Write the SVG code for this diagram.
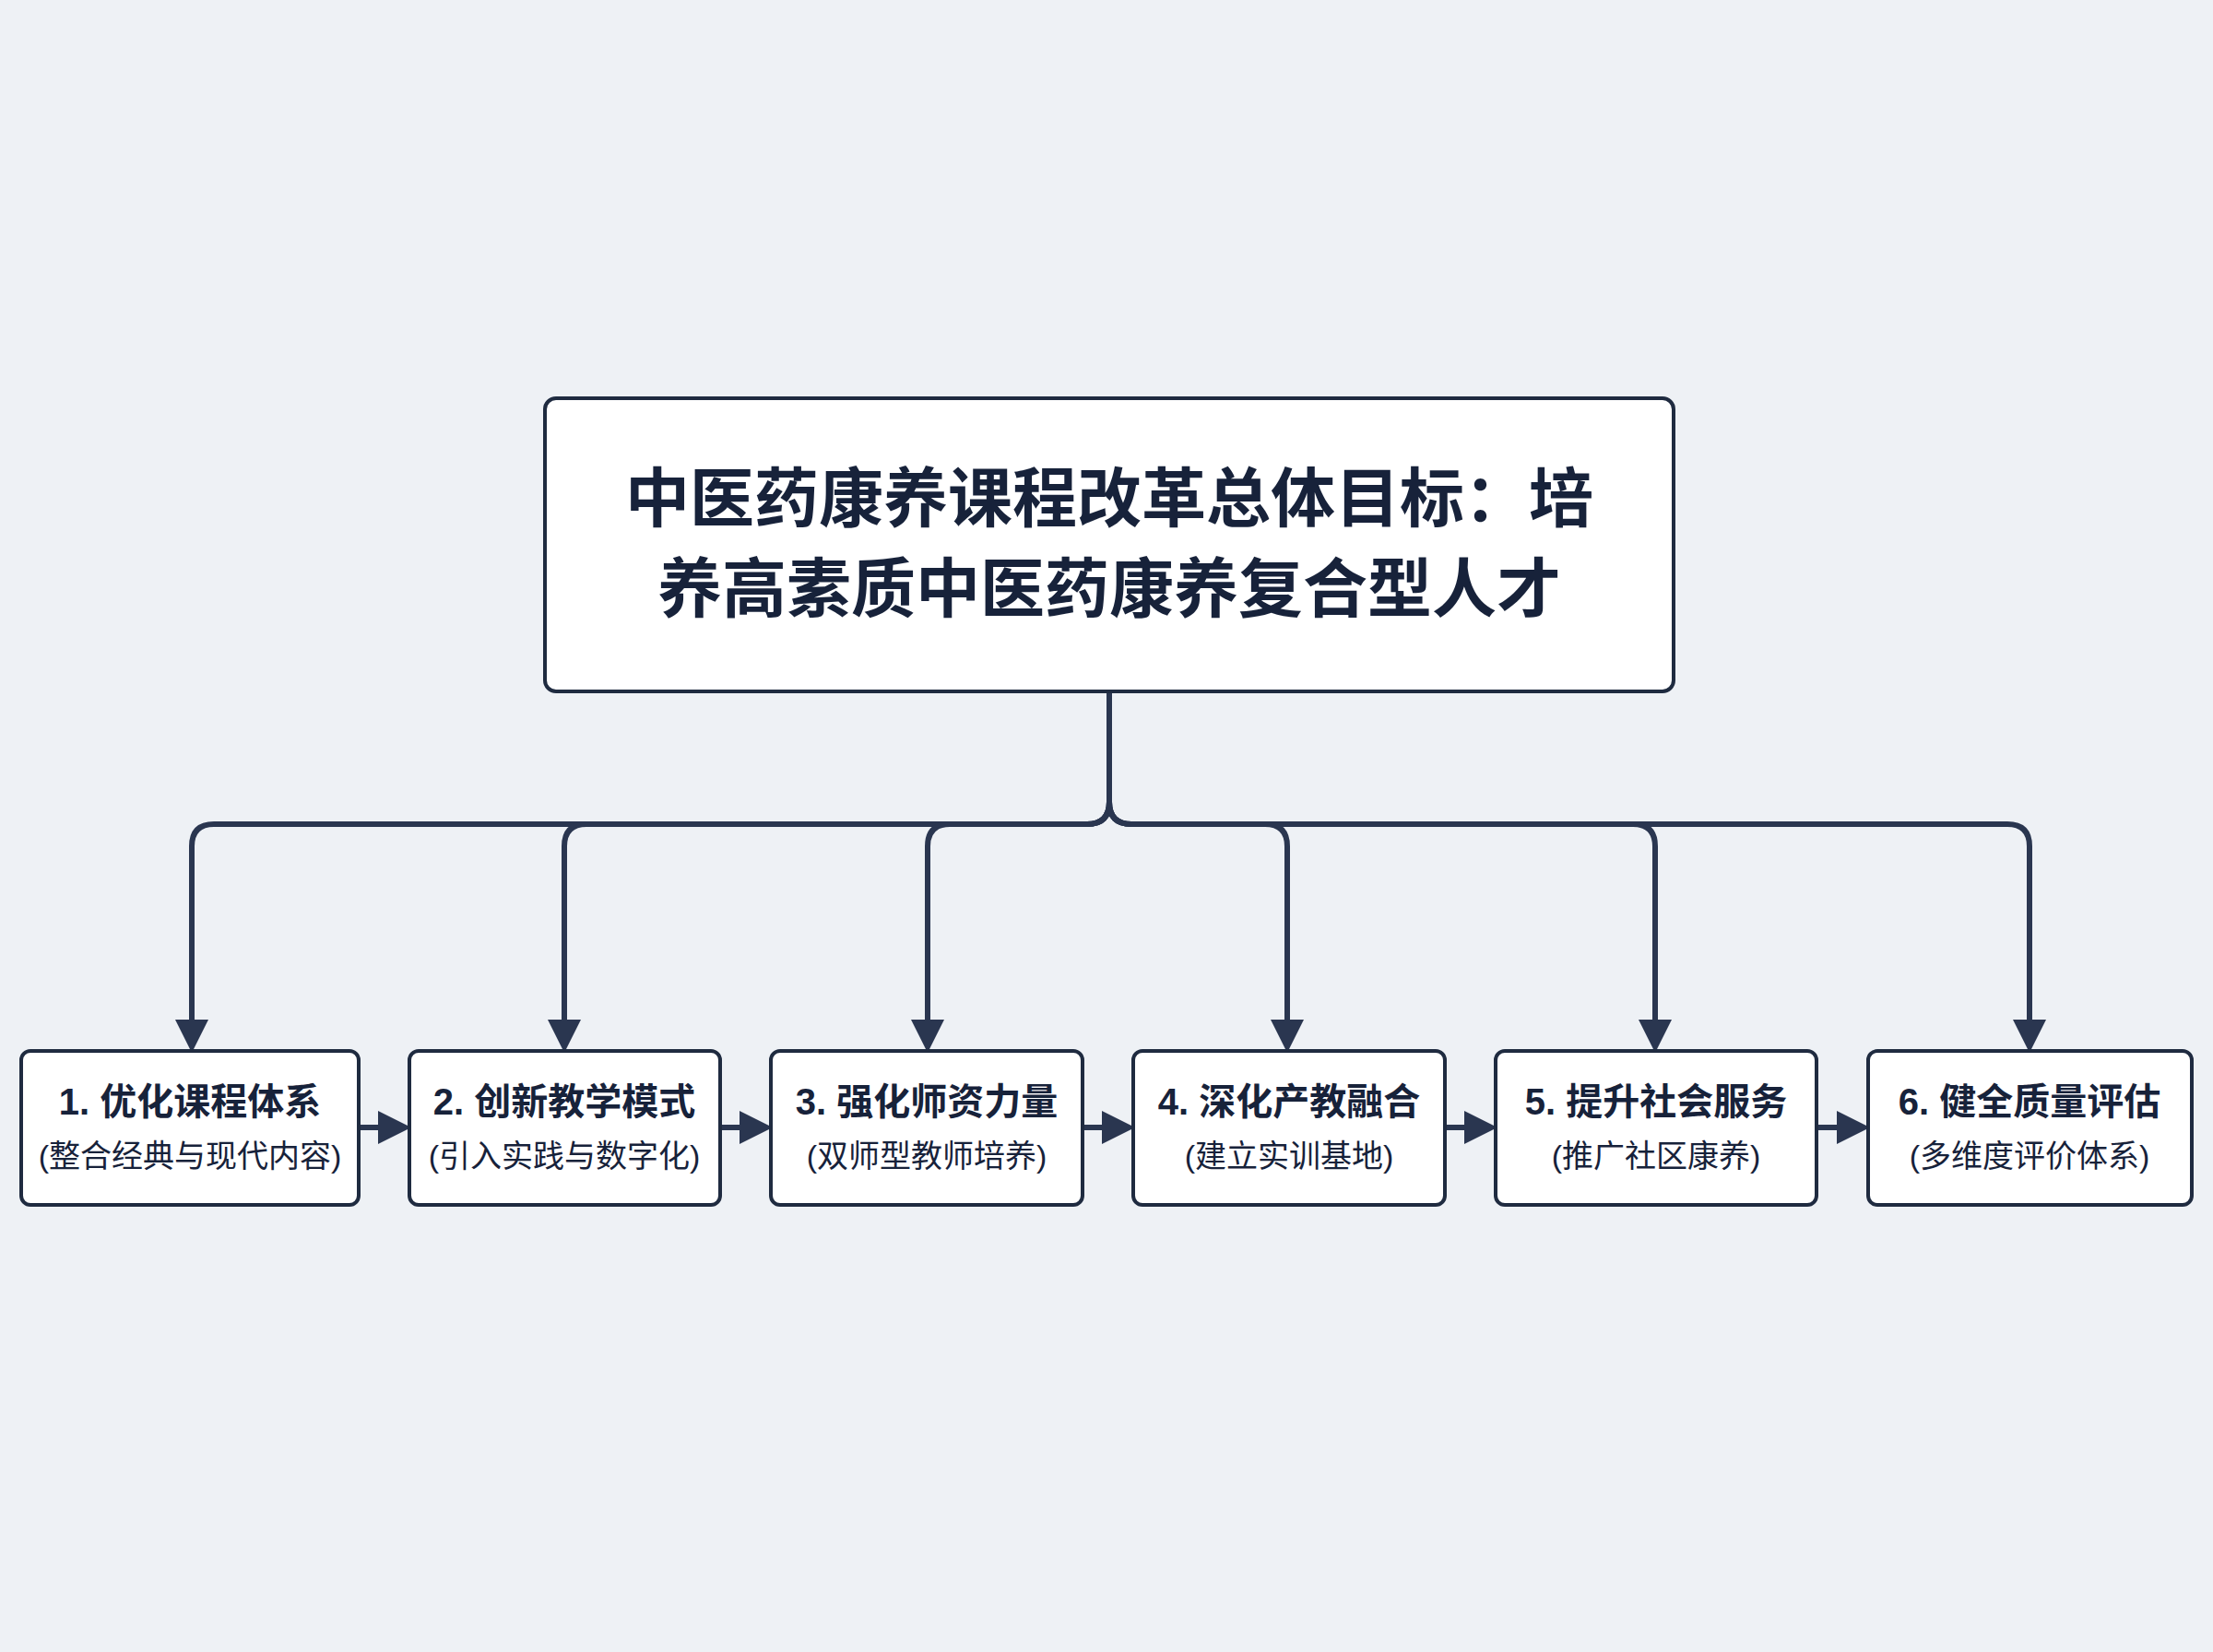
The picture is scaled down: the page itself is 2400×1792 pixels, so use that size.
<svg xmlns="http://www.w3.org/2000/svg" width="2400" height="1792" viewBox="0 0 2400 1792">
<defs>
<style>
.box{fill:#fff;stroke:#1f2b40;stroke-width:4}
.ln{fill:none;stroke:#2a3650;stroke-width:6}
.t{font-family:"Liberation Sans","Noto Sans CJK SC",sans-serif;fill:#17223a;text-anchor:middle}
.h{font-size:40px;font-weight:bold}
.s{font-size:34px}
.big{font-size:70px;font-weight:bold}
</style>
<marker id="a" markerWidth="6" markerHeight="6" refX="5" refY="3" orient="auto" markerUnits="strokeWidth"><path d="M0,0 L6,3 L0,6 z" fill="#2a3650"/></marker>
</defs>
<rect width="2400" height="1792" fill="#eef1f5"/>
<g id="connectors">
<path class="ln" d="M1203 750 V870"/>
<path class="ln" marker-end="url(#a)" d="M1203 870 Q1203 894 1179 894 H232 Q208 894 208 918 V1136"/>
<path class="ln" marker-end="url(#a)" d="M1203 870 Q1203 894 1179 894 H636 Q612 894 612 918 V1136"/>
<path class="ln" marker-end="url(#a)" d="M1203 870 Q1203 894 1179 894 H1030 Q1006 894 1006 918 V1136"/>
<path class="ln" marker-end="url(#a)" d="M1203 870 Q1203 894 1227 894 H1372 Q1396 894 1396 918 V1136"/>
<path class="ln" marker-end="url(#a)" d="M1203 870 Q1203 894 1227 894 H1771 Q1795 894 1795 918 V1136"/>
<path class="ln" marker-end="url(#a)" d="M1203 870 Q1203 894 1227 894 H2177 Q2201 894 2201 918 V1136"/>
<path class="ln" marker-end="url(#a)" d="M389 1223 H440"/>
<path class="ln" marker-end="url(#a)" d="M781 1223 H832"/>
<path class="ln" marker-end="url(#a)" d="M1174 1223 H1225"/>
<path class="ln" marker-end="url(#a)" d="M1567 1223 H1618"/>
<path class="ln" marker-end="url(#a)" d="M1970 1223 H2022"/>
</g>
<g id="root"><rect class="box" x="591" y="432" width="1224" height="318" rx="12"/>
<text class="t big" x="1203" y="566">中医药康养课程改革总体目标：培</text>
<text class="t big" x="1203" y="664">养高素质中医药康养复合型人才</text></g>
<g id="n1"><rect class="box" x="23" y="1140" width="366" height="167" rx="10"/><text class="t h" x="206" y="1209">1. 优化课程体系</text><text class="t s" x="206" y="1266">(整合经典与现代内容)</text></g>
<g id="n2"><rect class="box" x="444" y="1140" width="337" height="167" rx="10"/><text class="t h" x="612" y="1209">2. 创新教学模式</text><text class="t s" x="612" y="1266">(引入实践与数字化)</text></g>
<g id="n3"><rect class="box" x="836" y="1140" width="338" height="167" rx="10"/><text class="t h" x="1005" y="1209">3. 强化师资力量</text><text class="t s" x="1005" y="1266">(双师型教师培养)</text></g>
<g id="n4"><rect class="box" x="1229" y="1140" width="338" height="167" rx="10"/><text class="t h" x="1398" y="1209">4. 深化产教融合</text><text class="t s" x="1398" y="1266">(建立实训基地)</text></g>
<g id="n5"><rect class="box" x="1622" y="1140" width="348" height="167" rx="10"/><text class="t h" x="1796" y="1209">5. 提升社会服务</text><text class="t s" x="1796" y="1266">(推广社区康养)</text></g>
<g id="n6"><rect class="box" x="2026" y="1140" width="351" height="167" rx="10"/><text class="t h" x="2201" y="1209">6. 健全质量评估</text><text class="t s" x="2201" y="1266">(多维度评价体系)</text></g>
</svg>
